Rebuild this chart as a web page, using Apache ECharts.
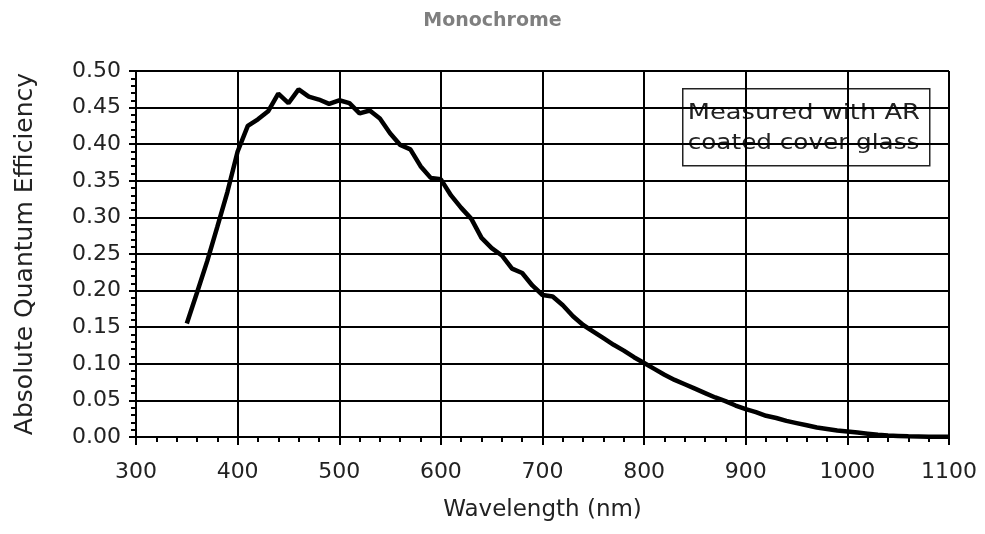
<!DOCTYPE html>
<html>
<head>
<meta charset="utf-8">
<script src="https://cdn.jsdelivr.net/npm/echarts@6/dist/echarts.min.js"></script>
<style>
html,body{margin:0;padding:0;background:#fff;}
#chart{width:985px;height:534px;}
</style>
</head>
<body>
<div id="chart"></div>
<script>
// Wavelength (nm)
var wavelengths = [350,360,370,380,390,400,410,420,430,440,450,460,470,480,490,500,510,520,530,540,550,560,570,580,590,600,610,620,630,640,650,660,670,680,690,700,710,720,730,740,750,760,770,780,790,800,810,820,830,840,850,860,870,880,890,900,910,920,930,940,950,960,970,980,990,1000,1010,1020,1030,1040,1050,1060,1070,1080,1090,1100];
// Absolute quantum efficiency
var efficiency = [0.155,0.197,0.240,0.287,0.335,0.390,0.425,0.434,0.445,0.469,0.456,0.475,0.465,0.461,0.455,0.460,0.456,0.442,0.446,0.435,0.415,0.399,0.393,0.370,0.354,0.352,0.330,0.313,0.298,0.272,0.258,0.248,0.230,0.224,0.207,0.194,0.192,0.180,0.165,0.153,0.144,0.135,0.126,0.118,0.109,0.101,0.093,0.085,0.078,0.072,0.066,0.060,0.054,0.049,0.043,0.038,0.034,0.029,0.026,0.022,0.019,0.016,0.013,0.011,0.009,0.0075,0.006,0.0045,0.003,0.002,0.0015,0.001,0.0008,0.0005,0.0003,0.0002];
var titleText = "Monochrome";
var xAxisName = "Wavelength (nm)";
var yAxisName = "Absolute Quantum Efficiency";
var noteLines = ["Measured with AR", "coated cover glass"];

var points = wavelengths.map(function (w, i) { return [w, efficiency[i]]; });
var FONT = "DejaVu Sans";
var chart = echarts.init(document.getElementById('chart'), null, {renderer: 'canvas'});
chart.setOption({
  animation: false,
  backgroundColor: '#fff',
  title: {
    text: titleText, left: 'center', top: 7,
    textStyle: {fontFamily: FONT, fontSize: 19, fontWeight: 'bold', color: '#7f7f7f'}
  },
  grid: {left: 136, right: 36, top: 71, bottom: 97, containLabel: false},
  xAxis: {
    type: 'value', min: 300, max: 1100, interval: 100,
    name: xAxisName, nameLocation: 'middle', nameGap: 62,
    nameTextStyle: {fontFamily: FONT, fontSize: 23, color: '#222'},
    axisLine: {show: true, onZero: false, lineStyle: {color: '#000', width: 2}},
    axisTick: {show: true, length: 8, inside: false, lineStyle: {color: '#000', width: 2}},
    minorTick: {show: true, splitNumber: 5, length: 5, lineStyle: {color: '#000', width: 2}},
    axisLabel: {margin: 24, fontFamily: FONT, fontSize: 22, color: '#222',
      formatter: function (v) { return String(v); }},
    splitLine: {show: true, lineStyle: {color: '#000', width: 2}}
  },
  yAxis: {
    type: 'value', min: 0, max: 0.5, interval: 0.05,
    name: yAxisName, nameLocation: 'middle', nameGap: 98,
    nameTextStyle: {fontFamily: FONT, fontSize: 25, color: '#222'},
    axisLine: {show: true, lineStyle: {color: '#000', width: 2}},
    axisTick: {show: true, length: 7, inside: false, lineStyle: {color: '#000', width: 2}},
    minorTick: {show: true, splitNumber: 5, length: 5, lineStyle: {color: '#000', width: 2}},
    axisLabel: {margin: 15, fontFamily: FONT, fontSize: 22, color: '#222',
      formatter: function (v) { return v.toFixed(2); }},
    splitLine: {show: true, lineStyle: {color: '#000', width: 2}}
  },
  series: [{
    type: 'line', data: points, showSymbol: false, smooth: false,
    lineStyle: {color: '#000', width: 4.5}, z: 5
  }],
  graphic: [{
    type: 'group', left: 682, top: 88, z: 10,
    children: [
      {type: 'rect', shape: {x: 0, y: 0, width: 247, height: 77},
       style: {fill: '#fff', stroke: '#222', lineWidth: 1.5}},
      {type: 'text', x: 5, y: 25, scaleX: 1.17,
       style: {text: noteLines[0], fontFamily: FONT, fontSize: 22, fill: '#222', verticalAlign: 'middle'}},
      {type: 'text', x: 5, y: 55, scaleX: 1.12,
       style: {text: noteLines[1], fontFamily: FONT, fontSize: 22, fill: '#222', verticalAlign: 'middle'}}
    ]
  }]
});
</script>
</body>
</html>
